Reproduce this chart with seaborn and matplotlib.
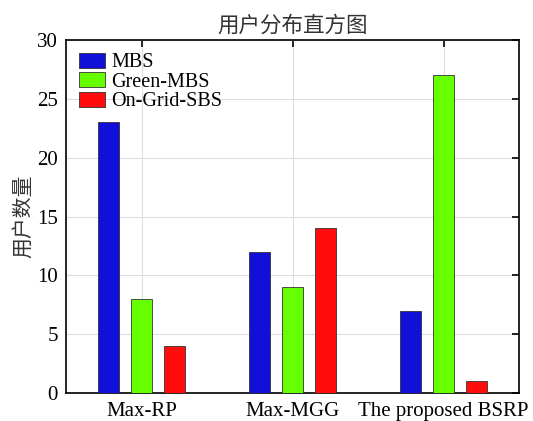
import pandas as pd
import matplotlib
matplotlib.use("Agg")
import matplotlib.pyplot as plt
import seaborn as sns

# Data
schemes = ["Max-RP", "Max-MGG", "The proposed BSRP"]
bs_types = ["MBS", "Green-MBS", "On-Grid-SBS"]
mbs_users = [23, 12, 7]
green_mbs_users = [8, 9, 27]
on_grid_sbs_users = [4, 14, 1]
y_ticks = [0, 5, 10, 15, 20, 25, 30]
bar_colors = ["#1010d8", "#66ff00", "#ff0d0d"]

df = pd.DataFrame({
    "scheme": schemes * 3,
    "type": [t for t in bs_types for _ in schemes],
    "users": mbs_users + green_mbs_users + on_grid_sbs_users,
})

sns.set_theme(style="white")
plt.rcParams["font.family"] = ["Liberation Serif", "Noto Sans CJK SC"]
plt.rcParams["axes.unicode_minus"] = False
plt.rcParams["text.color"] = "black"

fig, ax = plt.subplots(figsize=(5.33, 4.21), dpi=100)
fig.subplots_adjust(left=0.124, right=0.974, top=0.905, bottom=0.066)

sns.barplot(data=df, x="scheme", y="users", hue="type", hue_order=bs_types,
            palette=bar_colors, saturation=1, width=0.66, gap=0.36,
            edgecolor="#333333", linewidth=0.6, ax=ax, zorder=3)

ax.set_xlim(-0.5, 2.5)
ax.set_ylim(0, 30)
ax.set_yticks(y_ticks)
ax.grid(True, color="#dddddd", linewidth=0.8, zorder=0)
ax.set_axisbelow(True)
for s in ax.spines.values():
    s.set_color("black")
    s.set_linewidth(1.2)
ax.tick_params(direction="in", length=5, width=1.2, top=True, right=True,
               labelsize=15, colors="black", pad=6)

ax.set_xlabel("")
ax.set_ylabel("用户数量", fontsize=15, color="#333333", labelpad=2,
              family=["Noto Sans CJK SC", "DejaVu Sans"])
ax.set_title("用户分布直方图", fontsize=15.5, color="#333333", pad=6,
             family=["Noto Sans CJK SC", "DejaVu Sans"])

leg = ax.legend(loc="upper left", frameon=False, fontsize=14.5,
                handlelength=1.3, handleheight=0.75, handletextpad=0.3,
                labelspacing=0.0, borderaxespad=0.3, borderpad=0.35)
for t in leg.get_texts():
    t.set_color("black")

plt.savefig("out.png", dpi=100)
